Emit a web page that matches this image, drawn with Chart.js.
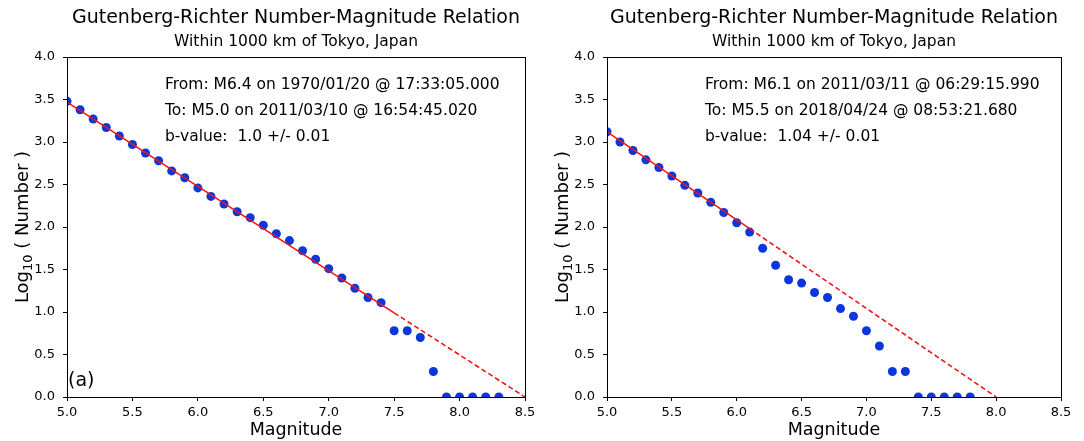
<!DOCTYPE html>
<html>
<head>
<meta charset="utf-8">
<script src="https://cdn.jsdelivr.net/npm/chart.js@4/dist/chart.umd.min.js"></script>
<style>
  body { margin: 0; background: #fff; }
  canvas { position: absolute; top: 0; }
  #chartA { left: 0; }
  #chartB { left: 540px; }
</style>
</head>
<body>
<canvas id="chartA" width="540" height="441"></canvas>
<canvas id="chartB" width="544" height="441"></canvas>
<script>
// panel (a): 1970 - 2011
const magsA = [5.0, 5.1, 5.2, 5.3, 5.4, 5.5, 5.6, 5.7, 5.8, 5.9, 6.0, 6.1, 6.2, 6.3, 6.4, 6.5, 6.6,
  6.7, 6.8, 6.9, 7.0, 7.1, 7.2, 7.3, 7.4, 7.5, 7.6, 7.7, 7.8, 7.9, 8.0, 8.1, 8.2, 8.3];
const logNA = [3.48, 3.38, 3.27, 3.17, 3.07, 2.97, 2.87, 2.78, 2.66, 2.58, 2.46, 2.36, 2.27, 2.18, 2.11,
  2.02, 1.92, 1.84, 1.72, 1.62, 1.51, 1.40, 1.28, 1.17, 1.11, 0.78, 0.78, 0.70, 0.30, 0, 0, 0, 0, 0];
const fitSolidA = [[5.0, 3.47], [7.5, 0.99]];
const fitDashA = [[7.5, 0.99], [8.5, 0.0]];
const textA = ['From: M6.4 on 1970/01/20 @ 17:33:05.000',
  'To: M5.0 on 2011/03/10 @ 16:54:45.020',
  'b-value:  1.0 +/- 0.01'];

// panel (b): 2011 - 2018
const magsB = [5.0, 5.1, 5.2, 5.3, 5.4, 5.5, 5.6, 5.7, 5.8, 5.9, 6.0, 6.1, 6.2, 6.3, 6.4, 6.5, 6.6,
  6.7, 6.8, 6.9, 7.0, 7.1, 7.2, 7.3, 7.4, 7.5, 7.6, 7.7, 7.8];
const logNB = [3.12, 3.00, 2.90, 2.79, 2.70, 2.60, 2.49, 2.40, 2.29, 2.17, 2.05, 1.94, 1.75, 1.55, 1.38,
  1.34, 1.23, 1.17, 1.04, 0.95, 0.78, 0.60, 0.30, 0.30, 0, 0, 0, 0, 0];
const fitSolidB = [[5.0, 3.12], [6.1, 1.98]];
const fitDashB = [[6.1, 1.98], [8.0, 0.0]];
const textB = ['From: M6.1 on 2011/03/11 @ 06:29:15.990',
  'To: M5.5 on 2018/04/24 @ 08:53:21.680',
  'b-value:  1.04 +/- 0.01'];

const titleText = 'Gutenberg-Richter Number-Magnitude Relation';
const subtitleText = 'Within 1000 km of Tokyo, Japan';

const FONT = "'DejaVu Sans', sans-serif";
const BLUE = '#0a36dc';
const RED = '#f01515';

// frame box, y label with subscript, text block, panel letter
const decorPlugin = {
    id: 'decor',
    afterDraw(chart, args, opts) {
        const { ctx, chartArea: a } = chart;
        ctx.save();
        ctx.strokeStyle = '#000';
        ctx.lineWidth = 1;
        ctx.strokeRect(Math.round(a.left) + 0.5, Math.round(a.top) + 0.5,
            Math.round(a.right - a.left), Math.round(a.bottom - a.top));

        // y axis title: Log10 ( Number )
        ctx.fillStyle = '#000';
        ctx.translate(opts.yTitleX, (a.top + a.bottom) / 2);
        ctx.rotate(-Math.PI / 2);
        ctx.textBaseline = 'alphabetic';
        ctx.font = '18px ' + FONT;
        const w1 = ctx.measureText('Log').width;
        ctx.font = '13px ' + FONT;
        const w2 = ctx.measureText('10').width;
        ctx.font = '18px ' + FONT;
        const w3 = ctx.measureText(' ( Number )').width;
        let x = -(w1 + w2 + w3) / 2;
        ctx.textAlign = 'left';
        ctx.fillText('Log', x, 6);
        x += w1;
        ctx.font = '13px ' + FONT;
        ctx.fillText('10', x, 10);
        x += w2;
        ctx.font = '18px ' + FONT;
        ctx.fillText(' ( Number )', x, 6);
        ctx.restore();

        ctx.save();
        ctx.fillStyle = '#000';
        ctx.font = '15.5px ' + FONT;
        ctx.textBaseline = 'middle';
        ctx.textAlign = 'left';
        opts.lines.forEach((t, i) => {
            ctx.fillText(t, a.left + opts.textDx, a.top + 28 + i * 26);
        });
        if (opts.letter) {
            ctx.font = '19px ' + FONT;
            ctx.fillText(opts.letter, a.left + 1, a.bottom - 16);
        }
        ctx.restore();
    }
};

function toXY(xs, ys) {
    return xs.map((m, i) => ({ x: m, y: ys[i] }));
}

function makeChart(id, mags, logN, fitSolid, fitDash, lines, letter, padRight) {
    const ctx = document.getElementById(id).getContext('2d');
    return new Chart(ctx, {
        type: 'scatter',
        data: {
            datasets: [
                {
                    data: fitSolid.map(p => ({ x: p[0], y: p[1] })),
                    showLine: true,
                    borderColor: RED,
                    borderWidth: 1.6,
                    pointRadius: 0,
                    clip: 0
                },
                {
                    data: fitDash.map(p => ({ x: p[0], y: p[1] })),
                    showLine: true,
                    borderColor: RED,
                    borderWidth: 1.6,
                    borderDash: [5, 3],
                    pointRadius: 0,
                    clip: 0
                },
                {
                    data: toXY(mags, logN),
                    backgroundColor: BLUE,
                    borderColor: BLUE,
                    pointRadius: 4.5,
                    pointBorderWidth: 0,
                    clip: 0
                }
            ]
        },
        options: {
            responsive: false,
            animation: false,
            devicePixelRatio: 1,
            layout: { padding: { left: 0, right: padRight, top: 0, bottom: 0 } },
            plugins: {
                legend: { display: false },
                tooltip: { enabled: false },
                title: {
                    display: true,
                    text: titleText,
                    fullSize: false,
                    color: '#000',
                    font: { family: FONT, size: 19, weight: 'normal', lineHeight: 1.2 },
                    padding: { top: 6.6, bottom: 0 }
                },
                subtitle: {
                    display: true,
                    text: subtitleText,
                    fullSize: false,
                    color: '#000',
                    font: { family: FONT, size: 15.5, weight: 'normal', lineHeight: 1.2 },
                    padding: { top: 3.3, bottom: 5.7 }
                },
                decor: { lines: lines, letter: letter, textDx: 98, yTitleX: 22 }
            },
            scales: {
                x: {
                    type: 'linear',
                    min: 5,
                    max: 8.5,
                    afterFit(scale) { scale.height = 44; },
                    ticks: {
                        stepSize: 0.5,
                        color: '#000',
                        padding: 4,
                        maxRotation: 0,
                        font: { family: FONT, size: 13 },
                        callback: v => v.toFixed(1)
                    },
                    grid: { drawOnChartArea: false, drawTicks: true, tickLength: 4, color: '#000' },
                    border: { display: true, color: '#000', width: 1 },
                    title: {
                        display: true,
                        text: 'Magnitude',
                        color: '#000',
                        font: { family: FONT, size: 17.5, lineHeight: 1.2 },
                        padding: { top: 0, bottom: 0 }
                    }
                },
                y: {
                    type: 'linear',
                    min: 0,
                    max: 4,
                    afterFit(scale) { scale.width = 67; },
                    ticks: {
                        stepSize: 0.5,
                        color: '#000',
                        padding: 8,
                        font: { family: FONT, size: 13 },
                        callback: v => v.toFixed(1)
                    },
                    grid: { drawOnChartArea: false, drawTicks: true, tickLength: 4, color: '#000' },
                    border: { display: true, color: '#000', width: 1 }
                }
            }
        },
        plugins: [decorPlugin]
    });
}

makeChart('chartA', magsA, logNA, fitSolidA, fitDashA, textA, '(a)', 15);
makeChart('chartB', magsB, logNB, fitSolidB, fitDashB, textB, null, 23);
</script>
</body>
</html>
